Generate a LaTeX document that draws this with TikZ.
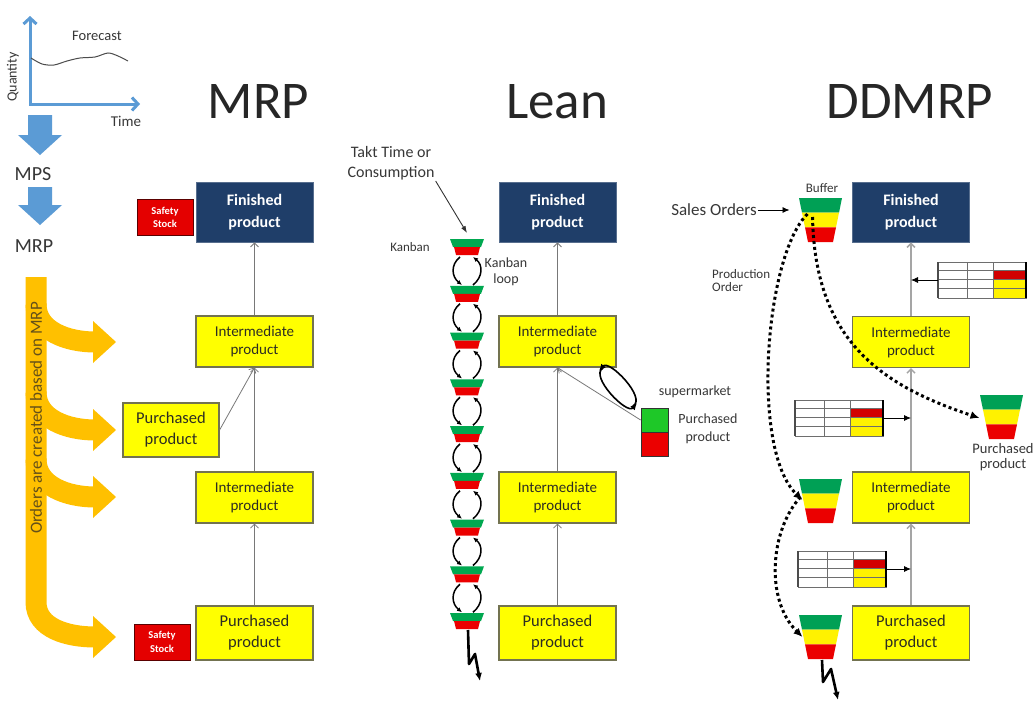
\documentclass[tikz,border=0pt]{standalone}
\usepackage{fontspec}
\setmainfont{Carlito}
\usetikzlibrary{arrows.meta,calc}

\definecolor{navy}{RGB}{31,62,105}
\definecolor{boxyellow}{RGB}{255,255,0}
\definecolor{boxedge}{RGB}{115,115,80}
\definecolor{ssred}{RGB}{228,0,0}
\definecolor{ssedge}{RGB}{90,0,0}
\definecolor{chartblue}{RGB}{91,155,213}
\definecolor{ordorange}{RGB}{255,192,0}
\definecolor{ordtext}{RGB}{100,80,25}
\definecolor{kgreen}{RGB}{0,168,80}
\definecolor{kred}{RGB}{235,0,0}
\definecolor{bgreen}{RGB}{0,160,85}
\definecolor{smgreen}{RGB}{30,200,40}
\definecolor{conngray}{RGB}{120,120,120}
\definecolor{lightconn}{RGB}{165,165,165}
\definecolor{txtdark}{RGB}{45,45,35}
\definecolor{lbl}{RGB}{55,55,55}
\definecolor{tred}{RGB}{210,0,0}
\definecolor{gridgray}{RGB}{110,110,110}

\newcommand\fsz[2]{\fontsize{#1}{#2}\selectfont}

\begin{document}
\begin{tikzpicture}[x=1pt,y=-1pt,
  prod/.style={draw=boxedge, line width=1.2pt, fill=boxyellow, minimum width=117pt,
    minimum height=51pt, inner sep=0pt, align=center, font=\fsz{15}{18}, text=txtdark},
  purch/.style={prod, minimum height=54pt, font=\fsz{16.5}{21}},
  fin/.style={fill=navy, draw=navy!75!white, line width=0.8pt, minimum width=117pt,
    minimum height=60pt, inner sep=0pt, align=center, font=\bfseries\fsz{16}{22}, text=white},
  safety/.style={fill=ssred, draw=ssedge, line width=1pt, minimum width=56pt,
    minimum height=36pt, inner sep=0pt, align=center, font=\bfseries\fsz{10.5}{13.5}, text=white},
  title/.style={font=\fsz{53}{60}, text=black!85, anchor=base},
  label/.style={font=\fsz{14}{17.5}, text=lbl, align=center, inner sep=1pt},
  conn/.style={draw=conngray, line width=0.8pt, -{Straight Barb[length=4pt,width=8pt]}},
  dconn/.style={draw=lightconn, line width=1.5pt, -{Straight Barb[length=4pt,width=8pt]}},
  kloop/.style={draw=black, line width=1.5pt, -{Latex[length=5pt,width=4.5pt]}},
  eloop/.style={draw=black, line width=1.6pt, -{Latex[length=7pt,width=6pt]}},
  bolt/.style={draw=black, line width=2.6pt, line join=round, -{Latex[length=8pt,width=7pt]}},
  dots/.style={draw=black, line width=3pt, dash pattern=on 3pt off 3pt, -{Latex[length=9pt,width=8pt]}},
  tarrow/.style={draw=black, line width=0.8pt, -{Latex[length=7pt,width=6pt]}},
  thinarrow/.style={draw=black!80, line width=0.9pt, -{Latex[length=7pt,width=5pt]}},
  kanban/.pic={
    \fill[kgreen] (-17,0) -- (17,0) -- (14,8) -- (-14,8) -- cycle;
    \fill[kred] (-13,8) -- (13,8) -- (11,16) -- (-11,16) -- cycle;
  },
  buffer/.pic={
    \fill[bgreen] (-21.5,0) -- (21.5,0) -- (18.5,14.7) -- (-18.5,14.7) -- cycle;
    \fill[yellow] (-18.5,14.7) -- (18.5,14.7) -- (15.5,29.3) -- (-15.5,29.3) -- cycle;
    \fill[kred] (-15.5,29.3) -- (15.5,29.3) -- (12.5,44) -- (-12.5,44) -- cycle;
  },
  stable/.pic={
    \fill[white] (0,0) rectangle (88,36);
    \fill[tred] (55,8) rectangle (88,17.3);
    \fill[yellow] (55,17.3) rectangle (88,36);
    \draw[gridgray, line width=0.5pt] (0,0) rectangle (88,36);
    \foreach \yy in {8,17.3,26.7} \draw[gridgray, line width=0.5pt] (0,\yy) -- (88,\yy);
    \foreach \xx in {29,55} \draw[gridgray, line width=0.5pt] (\xx,0) -- (\xx,36);
    \draw[black, line width=1.8pt] (88,0) -- (88,36);
    \draw[black!70, line width=1.1pt] (0,0) -- (0,36);
    \coordinate (-west) at (0,18);
    \coordinate (-east) at (88,18);
  }
]
\useasboundingbox (0,0) rectangle (1034,712);
\fill[white] (0,0) rectangle (1034,712);

% ---------- forecast chart ----------
\draw[chartblue, line width=3pt, line join=miter,
  {Straight Barb[length=6pt,width=13pt]}-{Straight Barb[length=6pt,width=13pt]}]
  (30,16) -- (30,104) -- (140,104);
\draw[black!70, line width=1pt] plot[smooth] coordinates
  {(31,58) (42,64) (54,65) (67,61) (80,58) (95,57) (108,53) (118,56) (128,61)};
\node[font=\fsz{14.5}{17}, text=lbl] (fc) at (97,36) {Forecast};
\node[font=\fsz{15}{17}, text=lbl] (tm) at (126,121) {Time};
\node[font=\fsz{14}{17}, text=lbl, rotate=90] (qty) at (13,77) {Quantity};

% ---------- MPS / MRP block arrows ----------
\fill[chartblue] (28,115) -- (52,115) -- (52,135) -- (62,135) -- (40,155) -- (18,135) -- (28,135) -- cycle;
\fill[chartblue] (28,187) -- (52,187) -- (52,205) -- (62,205) -- (40,225) -- (18,205) -- (28,205) -- cycle;
\node[font=\fsz{20}{24}, text=lbl] (mps) at (33,174) {MPS};
\node[font=\fsz{20}{24}, text=lbl] (mrpl) at (34,246) {MRP};

% ---------- orders arrow ----------
\begin{scope}[ordorange, line width=21pt]
  \draw (36,277) -- (36,602) to[out=-90,in=180] (95,637);
  \foreach \yy in {342,430,497} \draw (36,\yy-38) to[out=-90,in=180] (95,\yy);
  \foreach \yy in {342,430,497,637} \fill (93,\yy-21) -- (116,\yy) -- (93,\yy+21) -- cycle;
\end{scope}
\node[rotate=90, font=\fsz{17}{20}, text=ordtext] (ordtxt) at (36,418) {Orders are created based on MRP};

% ---------- titles ----------
\node[title] (tmrp) at (258.5,118) {MRP};
\node[title] (tlean) at (557,118) {Lean};
\node[title] (tdd) at (910,118) {DDMRP};

% ---------- MRP column ----------
\node[fin] (mf) at (254.5,212) {Finished\\product};
\node[prod] (mi1) at (254.5,341.5) {Intermediate\\product};
\node[prod] (mi2) at (254.5,497.5) {Intermediate\\product};
\node[purch] (mp) at (254.5,633) {Purchased\\product};
\node[purch, minimum width=96pt] (mpm) at (171,430) {Purchased\\product};
\node[safety] (ms1) at (165,217.5) {Safety\\Stock};
\node[safety] (ms2) at (162,642) {Safety\\Stock};
\draw[conn] (mi1.north) -- (mf.south);
\draw[conn] (mi2.north) -- (mi1.south);
\draw[conn] (mpm.east) -- (mi1.south);
\draw[conn] (mp.north) -- (mi2.south);

% ---------- Lean column ----------
\node[fin] (lf) at (557.5,212) {Finished\\product};
\node[prod] (li1) at (557.5,341.5) {Intermediate\\product};
\node[prod] (li2) at (557.5,497.5) {Intermediate\\product};
\node[purch] (lp) at (557.5,633) {Purchased\\product};
\draw[conn] (li1.north) -- (lf.south);
\draw[conn] (li2.north) -- (li1.south);
\draw[conn] (lp.north) -- (li2.south);

% supermarket
\node[draw=black!80, line width=0.8pt, fill=smgreen, minimum width=27pt, minimum height=24pt, inner sep=0pt] (smg) at (654.5,420) {};
\node[draw=black!80, line width=0.8pt, fill=kred, minimum width=27pt, minimum height=24pt, inner sep=0pt] (smr) at (654.5,444) {};
\draw[conn] (smg.west) -- (li1.south);
\coordinate (elA) at (599,371);
\coordinate (elB) at (637,403);
\coordinate (elA2) at (603,368);
\coordinate (elB2) at (633,406);
\draw[eloop] (elB2) .. controls +(14,-8) and +(10,-12) .. (elA);
\draw[eloop] (elA2) .. controls +(-14,8) and +(-10,12) .. (elB);
\node[label] (smlbl) at (695,392) {supermarket};
\node[label, font=\fsz{14}{18}] (lpl) at (708,429) {Purchased\\product};

% kanban chain
\foreach \i in {0,...,8} {
  \coordinate (k\i) at (467,{239+46.75*\i});
  \pic at (k\i) {kanban};
}
\foreach \i in {0,...,7} {
  \draw[kloop] ([shift={(-7,18)}]k\i) .. controls +(-10,8) and +(-10,-8) .. ([shift={(-5,46)}]k\i);
  \draw[kloop] ([shift={(6,46)}]k\i) .. controls +(10,-8) and +(10,8) .. ([shift={(6,18)}]k\i);
}
\draw[bolt] ([shift={(1,17)}]k8) -- ++(1,34) -- ++(6,-10) -- ++(5,27);
\node[label, font=\fsz{16}{20}] (takt) at (391,163) {Takt Time or\\Consumption};
\draw[thinarrow] (takt.south east) -- ([yshift=6pt]k0);
\node[label, font=\fsz{13}{16}] (kb) at (410,247) {Kanban};
\node[label, font=\fsz{14}{16}] (kbl) at (506,272) {Kanban\\loop};

% ---------- DDMRP column ----------
\node[fin] (df) at (911,212) {Finished\\product};
\node[prod] (di1) at (911,342) {Intermediate\\product};
\node[prod] (di2) at (911,497.5) {Intermediate\\product};
\node[purch] (dp) at (911,633) {Purchased\\product};
\draw[dconn] (di1.north) -- (df.south);
\draw[dconn] (di2.north) -- (di1.south);
\draw[dconn] (dp.north) -- (di2.south);

% status tables feeding the flow
\pic (t1) at (938,262) {stable};
\pic (t2) at (795,400) {stable};
\pic (t3) at (798,551) {stable};
\draw[tarrow] (t1-west) -- (t1-west -| df.south);
\draw[tarrow] (t2-east) -- (t2-east -| df.south);
\draw[tarrow] (t3-east) -- (t3-east -| df.south);

% buffers
\coordinate (b1) at (820.5,198);
\coordinate (b2) at (1001.5,395);
\coordinate (b3) at (820.5,479);
\coordinate (b4) at (820.5,615);
\foreach \b in {b1,b2,b3,b4} \pic at (\b) {buffer};

\node[label, font=\fsz{13}{16}] (buf) at (822,188) {Buffer};
\node[label, font=\fsz{17}{20}] (so) at (714,210) {Sales Orders};
\draw[tarrow] (so.east) -- ([shift={(-31,12)}]b1);
\node[label, font=\fsz{13}{13}, align=left, anchor=north west] (po) at (711,268) {Production\\Order};
\node[label, font=\fsz{14.5}{15}] (dpl) at (1003,457) {Purchased\\product};

% dotted order signals
\draw[dots] ([shift={(-13,16)}]b1) .. controls (765,255) and (750,450) .. ([shift={(-18,21)}]b3);
\draw[dots] ([shift={(-20,18)}]b3) .. controls (770,530) and (765,600) .. ([shift={(-18,22)}]b4);
\draw[dots] ([shift={(-8,19)}]b1) .. controls (815,340) and (880,385) .. ([shift={(-22,23)}]b2);

\draw[bolt] ([shift={(1.5,45)}]b4) -- ++(1,22) -- ++(8,-13) -- ++(7,31);
\end{tikzpicture}
\end{document}
